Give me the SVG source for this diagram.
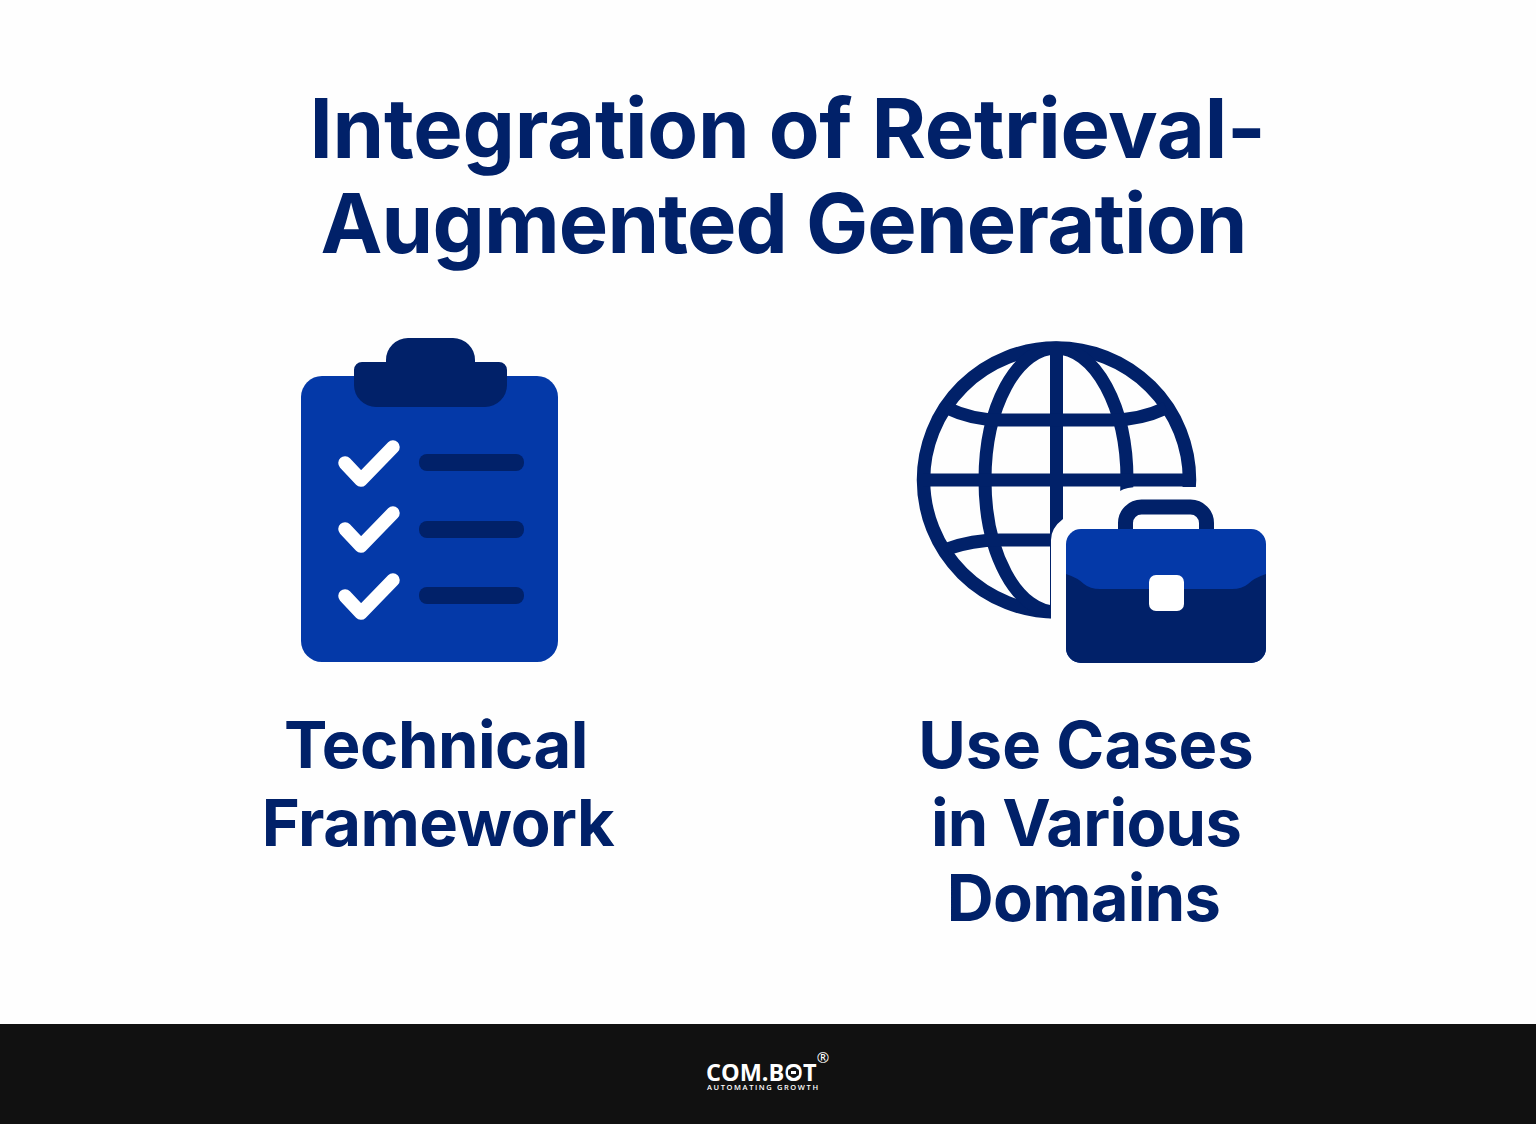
<svg xmlns="http://www.w3.org/2000/svg" width="1536" height="1124" viewBox="0 0 1536 1124">
<style>
.t{font-family:Inter,"Liberation Sans",sans-serif;font-weight:700;fill:#012169;text-anchor:middle}
.h{font-size:83px}
.l{font-size:65px}
.g{fill:none;stroke:#012169;stroke-width:13}
.d{fill:#012169}
.b{fill:#0439A8}
.c{fill:none;stroke:#fff;stroke-width:13.5;stroke-linecap:round;stroke-linejoin:round}
</style>
<rect width="1536" height="1124" fill="#fefefe"/>
<g id="title">
<text class="t h" x="787.500" y="158" letter-spacing="-0.270">Integration of Retrieval-</text>
<text class="t h" x="783.500" y="253" letter-spacing="-0.850">Augmented Generation</text>
</g>
<g id="clipboard">
<rect class="b" x="301" y="376" width="257" height="286" rx="21"/>
<path class="d" d="M386 362V360A22 22 0 0 1 408 338H453A22 22 0 0 1 475 360V362H499A8 8 0 0 1 507 370V385A22 22 0 0 1 485 407H376A22 22 0 0 1 354 385V370A8 8 0 0 1 362 362Z"/>
<path class="c" d="M345 463L361 480L393 447"/>
<path class="c" d="M345 529L361 546L393 513"/>
<path class="c" d="M345 596L361 613L393 580"/>
<rect class="d" x="419" y="454" width="105" height="17" rx="8"/>
<rect class="d" x="419" y="521" width="105" height="17" rx="8"/>
<rect class="d" x="419" y="587" width="105" height="17" rx="8"/>
</g>
<g id="technical-label">
<text class="t l" x="436" y="768" letter-spacing="-0.450">Technical</text>
<text class="t l" x="438" y="846" letter-spacing="-0.450">Framework</text>
</g>
<g id="globe-briefcase">
<ellipse class="g" cx="1056.500" cy="480" rx="133" ry="132" style="stroke-width:13.500"/>
<ellipse class="g" cx="1056" cy="480" rx="71" ry="132"/>
<path class="g" d="M1056.500 347V613M923 480H1190"/>
<path class="g" d="M947 408Q972 420 1000 420H1112Q1140 420 1166 408"/>
<path class="g" d="M947 549Q972 540 1000 540H1070"/>
<path d="M1051 625V540Q1051 528 1063 519L1112 505L1120 491Q1126 487 1140 487H1300V680H1051Z" fill="#fefefe"/>
<path d="M1125.500 532V523A16 16 0 0 1 1141.500 507H1190.500A16 16 0 0 1 1206.500 523V532" fill="none" stroke="#012169" stroke-width="15"/>
<rect class="b" x="1066" y="529" width="200" height="134" rx="15"/>
<path class="d" d="M1066 574Q1078 578 1084 584Q1090 589 1100 589H1232Q1242 589 1248 584Q1254 578 1266 574V648A15 15 0 0 1 1251 663H1081A15 15 0 0 1 1066 648Z"/>
<rect x="1149" y="575" width="35" height="36" rx="7" fill="#fff"/>
</g>
<g id="usecases-label">
<text class="t l" x="1086" y="768" letter-spacing="0">Use Cases</text>
<text class="t l" x="1086" y="846" letter-spacing="-0.700">in Various</text>
<text class="t l" x="1083.500" y="921" letter-spacing="-0.700">Domains</text>
</g>
<g id="footer">
<rect y="1024" width="1536" height="100" fill="#111"/>
<text x="706" y="1081" font-family="'Open Sans',sans-serif" font-weight="700" font-size="23.500" fill="#fff">COM.BOT</text>
<rect x="788" y="1069" width="11" height="7" rx="2" fill="#111"/>
<rect x="791" y="1071" width="5" height="3" fill="#fff"/>
<text x="707" y="1090" font-family="'Open Sans',sans-serif" font-weight="600" font-size="7.500" letter-spacing="1.600" fill="#fff">AUTOMATING GROWTH</text>
<text x="823" y="1063" font-family="'Open Sans',sans-serif" font-size="15" text-anchor="middle" fill="#fff">®</text>
</g>
</svg>
